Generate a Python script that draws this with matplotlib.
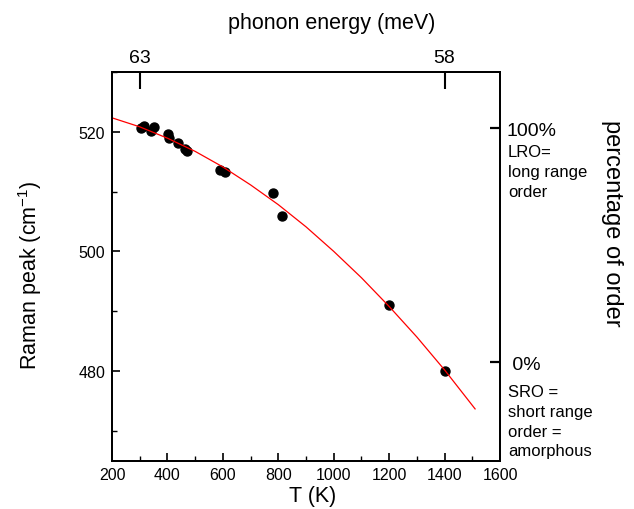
import matplotlib
matplotlib.use('Agg')
import matplotlib.pyplot as plt
from matplotlib.ticker import MultipleLocator

plt.rcParams['font.family'] = ['Liberation Sans', 'DejaVu Sans']
plt.rcParams['mathtext.default'] = 'regular'

# measured Raman peak vs temperature
temp_K = [305, 317, 341, 353, 401, 404, 437, 465, 471, 590, 608, 780, 813, 1200, 1400]
peak_cm = [520.6, 521.0, 520.1, 520.7, 519.6, 519.0, 518.1, 517.1, 516.7,
           513.6, 513.3, 509.7, 505.9, 491.0, 480.0]

# red fit curve
fit_T = [200, 300, 400, 500, 600, 700, 800, 900, 1000, 1100, 1200, 1300, 1400, 1510]
fit_peak = [522.3, 520.8, 518.9, 516.7, 514.1, 511.1, 507.8, 504.1, 500.0,
            495.6, 490.8, 485.7, 480.2, 473.7]

# top axis: phonon energy
phonon_T = [300, 1400]
phonon_labels = ['63', '58']

# right axis: percentage of order (100% / 0% at these peak values)
order_peak_100 = 520.6
order_peak_0 = 481.45
order_ticks = [0, 100]
order_labels = [' 0%', '100%']

ylo, yhi = 465, 530

fig = plt.figure(figsize=(6.34, 5.10), dpi=100)
ax = fig.add_axes([0.1767, 0.0941, 0.6120, 0.7633])

ax.scatter(temp_K, peak_cm, s=42, color='black', zorder=2)
ax.plot(fit_T, fit_peak, color='red', lw=0.9, zorder=3)

ax.set_xlim(200, 1600)
ax.set_ylim(ylo, yhi)
ax.xaxis.set_major_locator(MultipleLocator(200))
ax.xaxis.set_minor_locator(MultipleLocator(100))
ax.yaxis.set_major_locator(MultipleLocator(20))
ax.yaxis.set_minor_locator(MultipleLocator(10))
ax.tick_params(which='both', direction='in', top=False, right=False, labelsize=11.5)
ax.tick_params(which='major', length=6, width=1.2)
ax.tick_params(which='minor', length=3.5, width=1.0)
ax.tick_params(axis='x', pad=4)
ax.tick_params(axis='y', pad=5)
for sp in ax.spines.values():
    sp.set_linewidth(1.2)

ax.set_xlabel('T (K)', fontsize=15.5)
ax.xaxis.set_label_coords(0.518, -0.062)
ax.set_ylabel('Raman peak (cm$^{-1}$)', fontsize=15.5)
ax.yaxis.set_label_coords(-0.176, 0.48)

# top axis
ax_t = ax.twiny()
ax_t.set_xlim(ax.get_xlim())
ax_t.set_xticks(phonon_T)
ax_t.set_xticklabels(phonon_labels)
ax_t.tick_params(direction='in', length=12, width=1.5, labelsize=14, pad=4)
ax_t.set_xlabel('phonon energy (meV)', fontsize=15.5)
ax_t.xaxis.set_label_coords(0.567, 1.112)

# right axis
span = order_peak_100 - order_peak_0
ax_r = ax.twinx()
ax_r.set_ylim((ylo - order_peak_0) / span * 100, (yhi - order_peak_0) / span * 100)
ax_r.set_yticks(order_ticks)
ax_r.set_yticklabels(order_labels)
ax_r.tick_params(direction='in', length=7, width=1.6, labelsize=14, pad=5)
for a in (ax_t, ax_r):
    for sp in a.spines.values():
        sp.set_linewidth(1.2)

W, H = 634, 510
fig.text(508 / W, 1 - 145 / H, 'LRO=\nlong range\norder', fontsize=12,
         ha='left', va='top', linespacing=1.4)
fig.text(508 / W, 1 - 385 / H, 'SRO =\nshort range\norder =\namorphous', fontsize=12,
         ha='left', va='top', linespacing=1.4)
fig.text(612 / W, 1 - 223 / H, 'percentage of order', fontsize=17,
         rotation=270, ha='center', va='center')

fig.savefig('out.png', dpi=100)
